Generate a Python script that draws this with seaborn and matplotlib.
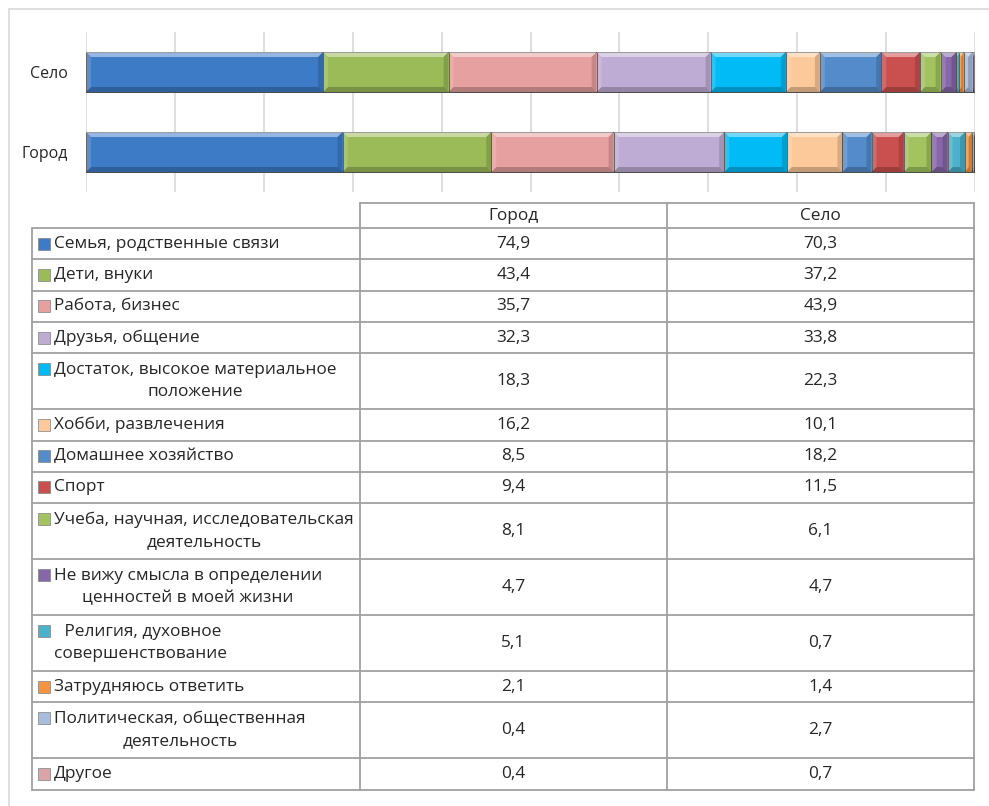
import matplotlib
matplotlib.use("Agg")
import numpy as np
import pandas as pd
import matplotlib.pyplot as plt
import seaborn as sns
from matplotlib.patches import Polygon, Rectangle

# data
categories = ["Семья, родственные связи", "Дети, внуки", "Работа, бизнес",
              "Друзья, общение", "Достаток, высокое материальное\nположение",
              "Хобби, развлечения", "Домашнее хозяйство", "Спорт",
              "Учеба, научная, исследовательская\nдеятельность",
              "Не вижу смысла в определении\nценностей в моей жизни",
              " Религия, духовное\nсовершенствование", "Затрудняюсь ответить",
              "Политическая, общественная\nдеятельность", "Другое"]
gorod = [74.9, 43.4, 35.7, 32.3, 18.3, 16.2, 8.5, 9.4, 8.1, 4.7, 5.1, 2.1, 0.4, 0.4]
selo = [70.3, 37.2, 43.9, 33.8, 22.3, 10.1, 18.2, 11.5, 6.1, 4.7, 0.7, 1.4, 2.7, 0.7]
regions = ["Село", "Город"]
colors = ["#3d7bc7", "#9bbb59", "#e6a09f", "#bfacd4", "#00bbf5", "#fcca9a",
          "#538bcb", "#c9504e", "#a2c35f", "#8767a9", "#4bb1cc", "#f59440",
          "#a8bcdb", "#b08a94"]
key_colors = colors[:13] + ["#d9a3a8"]

def fmt(v):
    return f"{v:.1f}".replace(".", ",")

df = pd.DataFrame({"cat": categories * 2,
                   "region": ["Город"] * len(gorod) + ["Село"] * len(selo),
                   "val": gorod + selo})
df["pct"] = df["val"] / df.groupby("region")["val"].transform("sum") * 100
wide = df.pivot(index="cat", columns="region", values="pct").loc[categories, regions]
lefts = wide.cumsum().shift(fill_value=0)

sns.set_style("white")
plt.rcParams["font.family"] = ["Open Sans", "DejaVu Sans"]
fig = plt.figure(figsize=(9.89, 8.06), dpi=100)
W, H = 989, 806

# frame of the chart area
bg = fig.add_axes([0, 0, 1, 1])
bg.set_xlim(0, W)
bg.set_ylim(H, 0)
bg.axis("off")
bg.plot([9, W], [9, 9], color="#d9d9d9", lw=1.2)
bg.plot([9, 9], [9, H], color="#d9d9d9", lw=1.2)

# stacked 100% bars
ax = fig.add_axes([86 / W, 1 - 192 / H, 889 / W, 160 / H])
for i, cat in enumerate(categories):
    sub = pd.DataFrame({"region": regions, "pct": wide.loc[cat].values})
    sns.barplot(data=sub, x="pct", y="region", order=regions, orient="h",
                left=lefts.loc[cat].values, color=colors[i], width=0.5,
                errorbar=None, edgecolor="#4a4a4a", linewidth=0.7, ax=ax,
                saturation=1)
ax.set_xlim(0, 100)
ax.set_ylim(1.5, -0.5)
ax.set_xticks(np.arange(0, 101, 10))
ax.xaxis.grid(True, color="#d9d9d9", lw=1.2)
ax.set_axisbelow(True)
ax.tick_params(axis="x", labelbottom=False, length=0)
ax.tick_params(axis="y", length=0, pad=13, labelsize=11.5)
ax.set_xlabel("")
ax.set_ylabel("")
for s in ax.spines.values():
    s.set_visible(False)

# bevel on each segment
dx = 5 / 889 * 100
dy = 5 / 80
for p in list(ax.patches):
    x0, y0 = p.get_x(), p.get_y()
    w, h = p.get_width(), p.get_height()
    bx = min(dx, w / 2)
    x1, y1 = x0 + w, y0 + h
    top = [(x0, y0), (x1, y0), (x1 - bx, y0 + dy), (x0 + bx, y0 + dy)]
    bot = [(x0, y1), (x1, y1), (x1 - bx, y1 - dy), (x0 + bx, y1 - dy)]
    lft = [(x0, y0), (x0 + bx, y0 + dy), (x0 + bx, y1 - dy), (x0, y1)]
    rgt = [(x1, y0), (x1 - bx, y0 + dy), (x1 - bx, y1 - dy), (x1, y1)]
    for poly, c, a in [(top, "white", 0.45), (bot, "black", 0.22),
                       (lft, "white", 0.15), (rgt, "black", 0.15)]:
        ax.add_patch(Polygon(poly, closed=True, facecolor=c, alpha=a, lw=0))

# data table
x_lab, x_c1, x_c2, x_end = 32, 360, 667, 974
y_head, y0 = 203, 228
single, double = 31.3, 56.0
line_c = "#a0a0a0"
fs = 12.4

bg.plot([x_c1, x_end], [y_head, y_head], color=line_c, lw=1.3)
for xx in [x_c1, x_c2, x_end]:
    bg.plot([xx, xx], [y_head, y0], color=line_c, lw=1.3)
bg.text((x_c1 + x_c2) / 2, (y_head + y0) / 2, "Город", ha="center", va="center", fontsize=fs)
bg.text((x_c2 + x_end) / 2, (y_head + y0) / 2, "Село", ha="center", va="center", fontsize=fs)

y = y0
bg.plot([x_lab, x_end], [y, y], color=line_c, lw=1.3)
for i, cat in enumerate(categories):
    nlines = cat.count("\n") + 1
    h = single if nlines == 1 else double
    yc = y + h / 2
    bg.text(54, yc, cat, ha="left", va="center", multialignment="center",
            fontsize=fs, linespacing=1.5)
    ky = yc if nlines == 1 else y + 16
    bg.add_patch(Rectangle((38, ky - 6), 12, 12, facecolor=key_colors[i],
                           edgecolor="#7f7f7f", lw=0.5))
    bg.text((x_c1 + x_c2) / 2, yc, fmt(gorod[i]), ha="center", va="center", fontsize=fs)
    bg.text((x_c2 + x_end) / 2, yc, fmt(selo[i]), ha="center", va="center", fontsize=fs)
    for xx in [x_lab, x_c1, x_c2, x_end]:
        bg.plot([xx, xx], [y, y + h], color=line_c, lw=1.3)
    y += h
    bg.plot([x_lab, x_end], [y, y], color=line_c, lw=1.3)

fig.savefig("out.png", dpi=100)
